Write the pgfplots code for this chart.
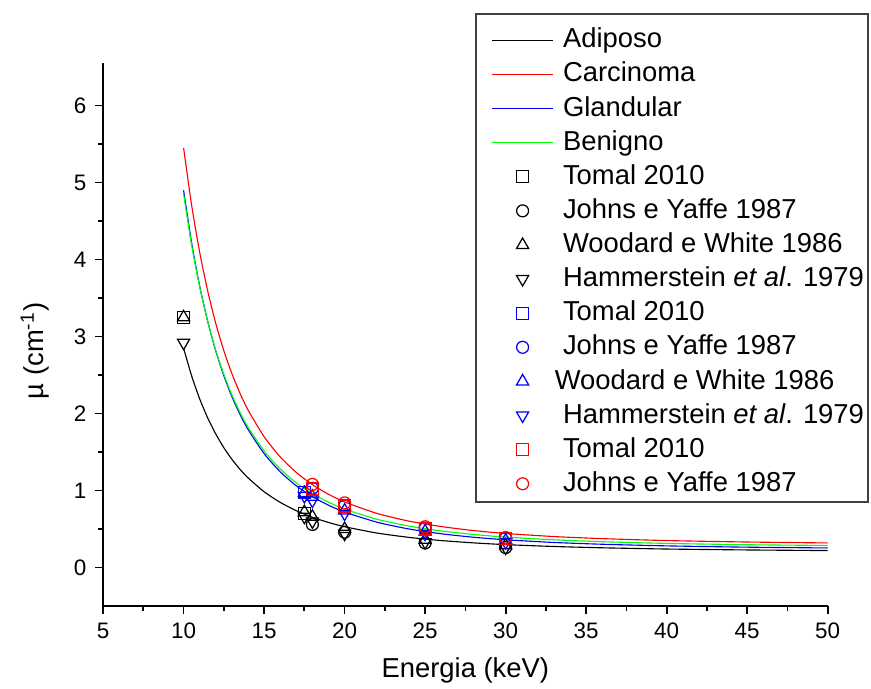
\documentclass[border=0pt]{standalone}
\usepackage{fontspec}
\setmainfont{Liberation Sans}
\usepackage{pgfplots}
\pgfplotsset{compat=1.18}
\pgfplotsset{
  lineleg/.style={legend image code/.code={\path (-4.5pt,0pt) (0.86cm,0pt);\draw[##1,mark=none,yshift=-1.6pt] (0cm,0cm) -- (0.86cm,0cm);}},
  markleg/.style={legend image code/.code={\path (-4.5pt,0pt) (0.86cm,0pt);\draw[##1,yshift=-1.6pt] plot coordinates {(0.43cm,0cm)};}},
  mks/.style={only marks, mark size=2.4pt, mark options={solid, line width=0.5pt, fill=none}, markleg},
  tri/.style={mark=triangle, mark size=2.8pt},
  curve/.style={line width=0.45pt, smooth, tension=0.4, lineleg},
}
\pgfplotstableread{
E mu
10 2.850
10.5 2.489
11 2.191
11.5 1.942
12 1.734
12.5 1.557
13 1.406
13.5 1.277
14 1.166
15 0.985
16 0.847
17 0.739
18 0.654
19 0.586
20 0.531
22 0.449
24 0.392
26 0.351
28 0.321
30 0.298
33 0.274
36 0.257
40 0.241
45 0.229
50 0.221
}\adiposo
\pgfplotstableread{
E mu
10 5.451
10.5 4.705
11 4.094
11.5 3.590
12 3.169
12.5 2.817
13 2.519
13.5 2.265
14 2.048
15 1.700
16 1.437
17 1.235
18 1.077
19 0.952
20 0.852
22 0.704
24 0.603
26 0.533
28 0.481
30 0.443
33 0.403
36 0.376
40 0.351
45 0.332
50 0.320
}\carcinoma
\pgfplotstableread{
E mu
10 4.900
10.5 4.215
11 3.656
11.5 3.195
12 2.812
12.5 2.491
13 2.221
13.5 1.991
14 1.795
15 1.480
16 1.244
17 1.062
18 0.921
19 0.810
20 0.721
22 0.590
24 0.501
26 0.439
28 0.394
30 0.361
33 0.326
36 0.303
40 0.282
45 0.265
50 0.255
}\glandular
\pgfplotstableread{
E mu
10 4.850
10.5 4.187
11 3.644
11.5 3.195
12 2.821
12.5 2.508
13 2.243
13.5 2.017
14 1.824
15 1.514
16 1.280
17 1.100
18 0.960
19 0.849
20 0.759
22 0.628
24 0.539
26 0.476
28 0.430
30 0.396
33 0.361
36 0.336
40 0.314
45 0.297
50 0.287
}\benigno
\begin{document}
\begin{tikzpicture}
\path[use as bounding box] (-41.4pt,-33.3pt) rectangle (308.4pt,243.4pt);
\begin{axis}[
  scale only axis, width=291pt, height=218pt,
  xmin=5, xmax=50, ymin=-0.5, ymax=6.55,
  axis x line*=bottom, axis y line*=left,
  axis line style={-, line width=0.8pt},
  every tick/.style={line width=0.7pt, black},
  tick align=outside,
  major tick length=3.2pt, minor tick length=2pt,
  xtick={5,10,...,50}, ytick={0,1,...,6},
  minor x tick num=1, minor y tick num=1,
  /pgf/number format/assume math mode=true,
  tick label style={font=\fontsize{9}{10}\selectfont},
  xlabel={Energia (keV)}, ylabel={µ (cm\textsuperscript{-1})},
  label style={font=\fontsize{11}{13}\selectfont},
  xlabel style={at={(axis description cs:0.5,0)}, anchor=center, yshift=-25.7pt},
  ylabel style={at={(axis description cs:-0.094,0.47)}, anchor=center},
  clip=false,
  legend cell align=left,
  legend style={at={(1.0566,1.0921)}, anchor=north east, draw=black!75, line width=0.8pt,
    fill=white, font=\fontsize{11}{13}\selectfont, inner xsep=1.5pt, inner ysep=3.5pt,
    nodes={inner sep=0pt, text height=10pt, text depth=0.7pt},
    row sep=3pt, /tikz/every odd column/.style={column sep=3.6pt}},
]
\addplot[black, curve] table {\adiposo};
\addlegendentry{Adiposo}
\addplot[red, curve] table {\carcinoma};
\addlegendentry{Carcinoma}
\addplot[blue, curve] table {\glandular};
\addlegendentry{Glandular}
\addplot[green, curve] table {\benigno};
\addlegendentry{Benigno}
% adipose data
\addplot[black, mks, mark=square] coordinates {(10,3.25) (17.5,0.70)};
\addlegendentry{Tomal 2010}
\addplot[black, mks, mark=o] coordinates {(18,0.56) (20,0.46) (25,0.32) (30,0.26)};
\addlegendentry{Johns e Yaffe 1987}
\addplot[black, mks, tri] coordinates {(10,3.25) (17.5,0.72) (18,0.66) (20,0.50) (25,0.36) (30,0.29)};
\addlegendentry{Woodard e White 1986}
\addplot[black, mks, tri, every mark/.append style={rotate=180}] coordinates {(10,2.92) (17.5,0.66) (18,0.60) (20,0.44) (25,0.33) (30,0.26)};
\addlegendentry{Hammerstein \textit{et al}. 1979}
% glandular data
\addplot[blue, mks, mark=square] coordinates {(17.5,0.98)};
\addlegendentry{Tomal 2010}
\addplot[blue, mks, mark=o] coordinates {(18,1.03) (20,0.80) (25,0.51) (30,0.38)};
\addlegendentry{Johns e Yaffe 1987}
\addplot[blue, mks, tri] coordinates {(17.5,0.97) (18,0.92) (20,0.74) (25,0.47) (30,0.35)};
\addlegendentry{\hspace*{-3.3pt}Woodard e White 1986}
\addplot[blue, mks, tri, every mark/.append style={rotate=180}] coordinates {(17.5,0.93) (18,0.87) (20,0.70) (25,0.44) (30,0.33)};
\addlegendentry{Hammerstein \textit{et al}. 1979}
% carcinoma data
\addplot[red, mks, mark=square] coordinates {(18,1.02) (20,0.80) (25,0.50) (30,0.38)};
\addlegendentry{Tomal 2010}
\addplot[red, mks, mark=o] coordinates {(18,1.08) (20,0.84) (25,0.53) (30,0.39)};
\addlegendentry{Johns e Yaffe 1987}
\end{axis}
\end{tikzpicture}
\end{document}
